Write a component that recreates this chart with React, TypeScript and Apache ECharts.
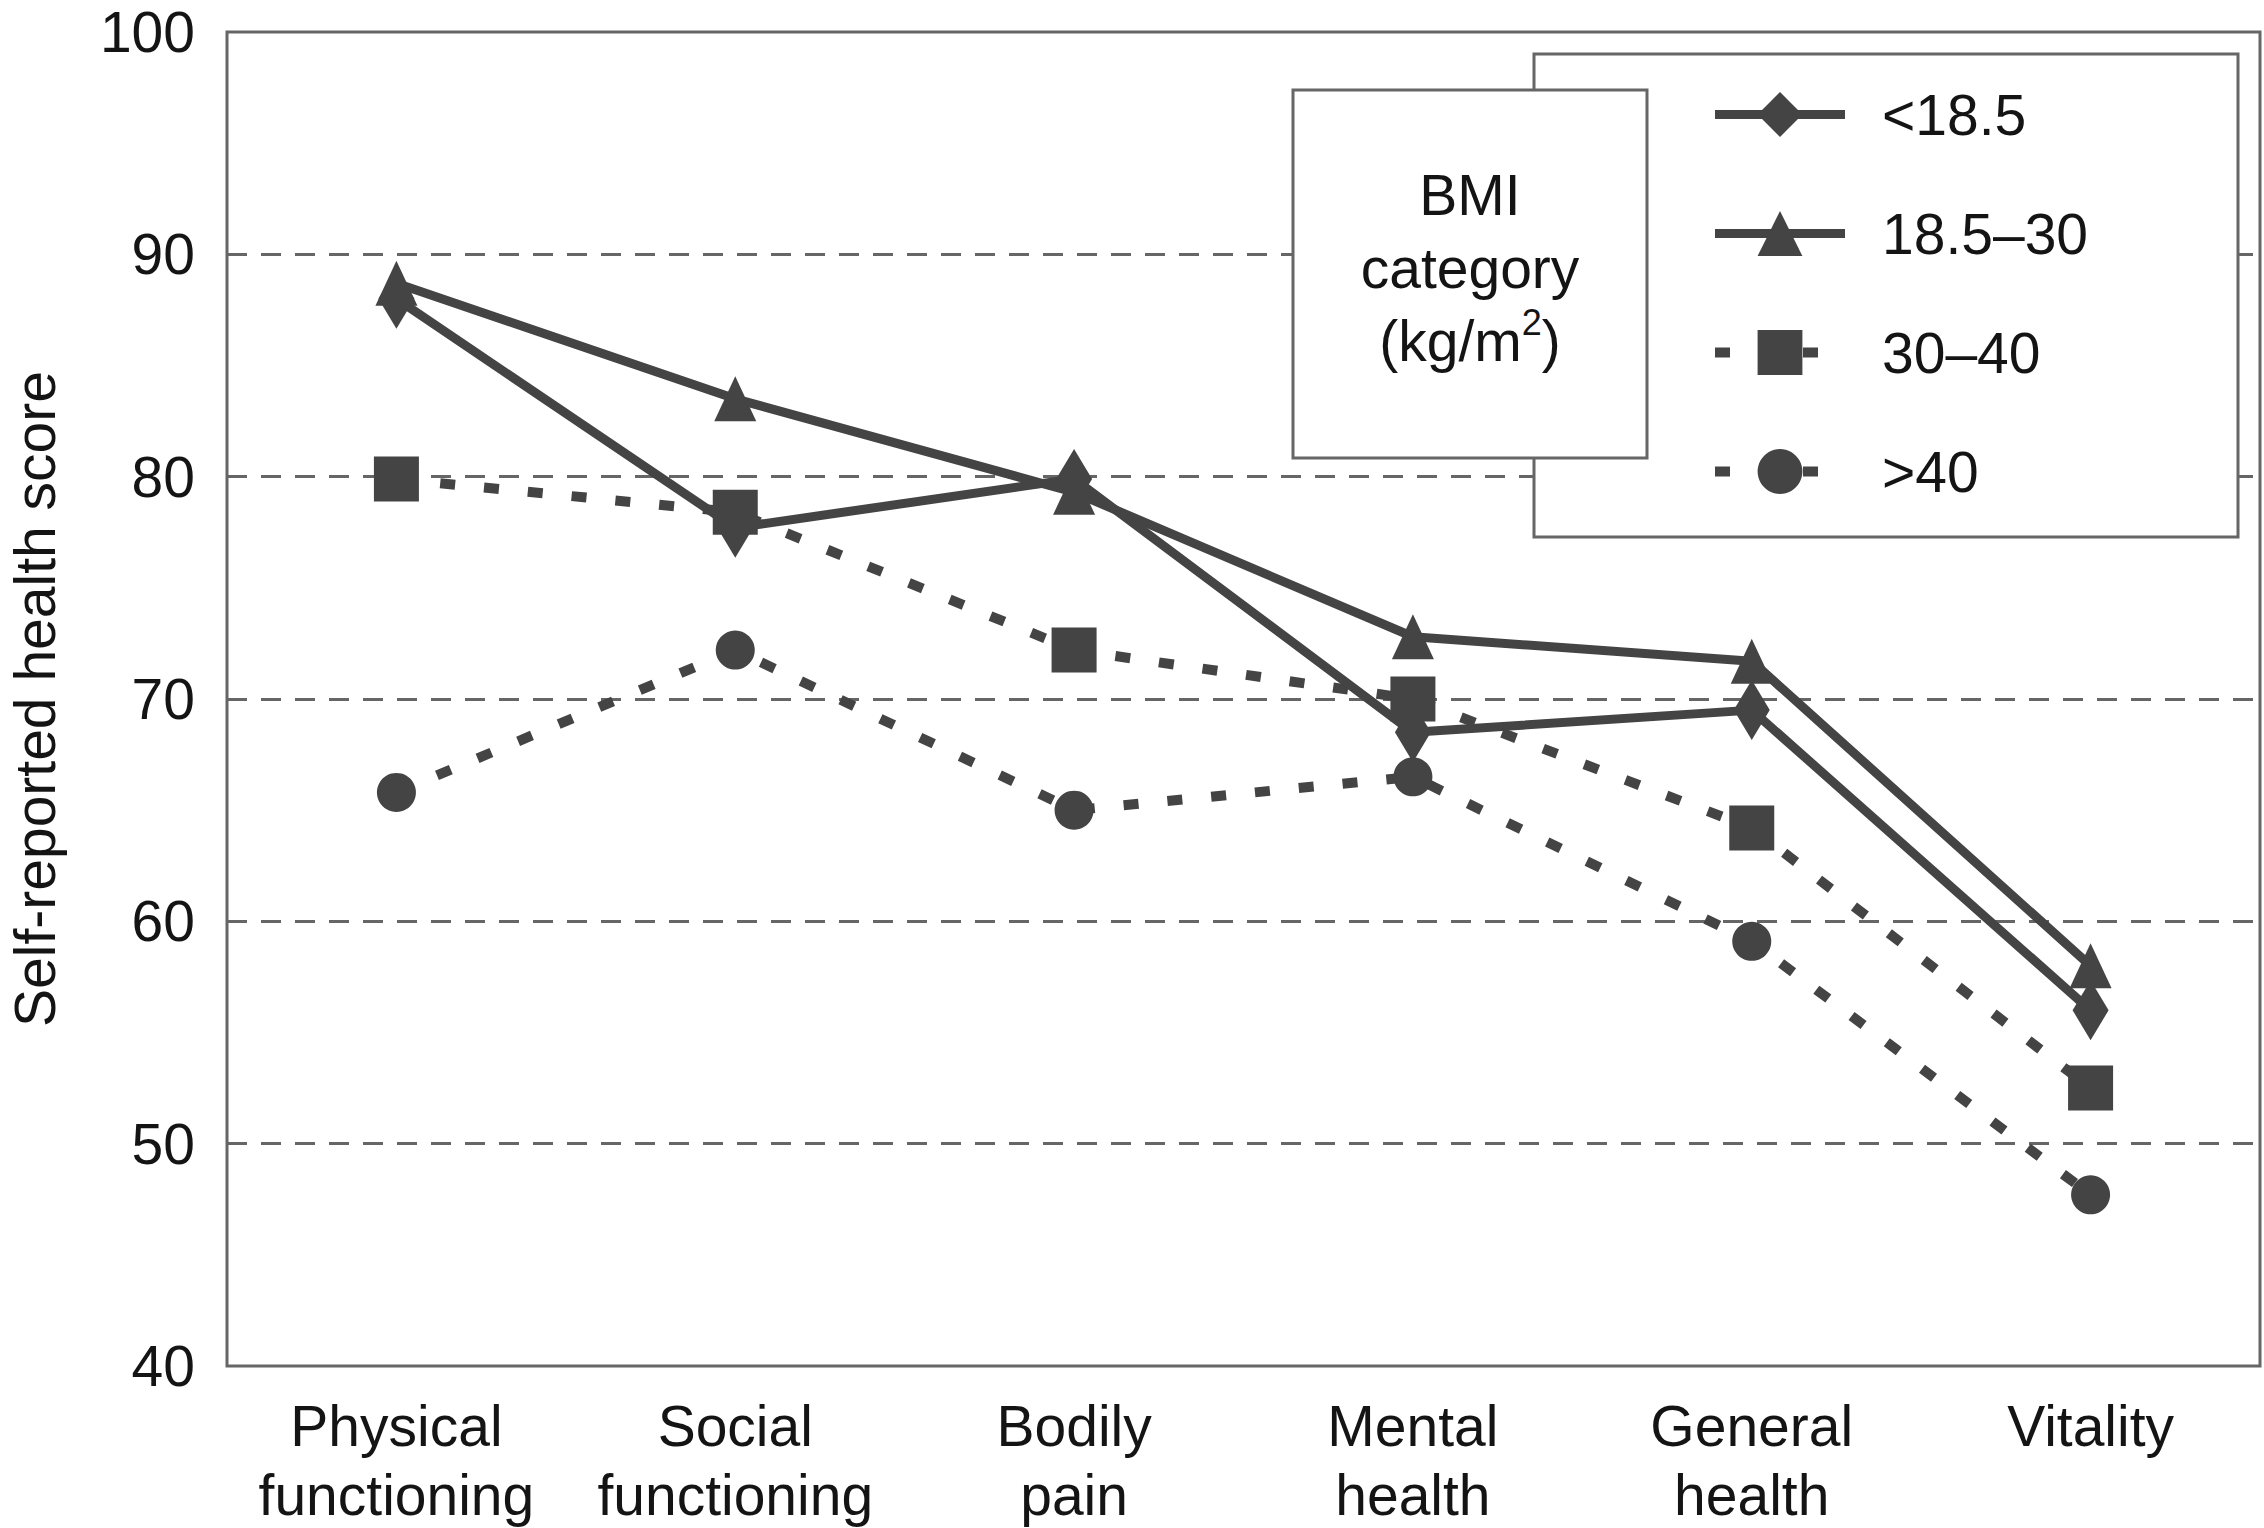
import { useEffect, useRef } from "react";
import * as echarts from "echarts";

// SF-36 domains on the x axis
const CATEGORIES = [
  "Physical\nfunctioning",
  "Social\nfunctioning",
  "Bodily\npain",
  "Mental\nhealth",
  "General\nhealth",
  "Vitality",
];

// self-reported scores per BMI category
const BMI_UNDER_18_5 = [88.0, 77.7, 79.9, 68.5, 69.5, 56.0];
const BMI_18_5_TO_30 = [88.7, 83.5, 79.3, 72.8, 71.7, 58.0];
const BMI_30_TO_40 = [79.9, 78.4, 72.2, 70.0, 64.2, 52.5];
const BMI_OVER_40 = [65.8, 72.2, 65.0, 66.5, 59.1, 47.7];

const SERIES_NAMES = ["<18.5", "18.5–30", "30–40", ">40"];
const Y_MIN = 40;
const Y_MAX = 100;
const Y_STEP = 10;

const FONT = "'Liberation Sans', Arial, Helvetica, sans-serif";
const INK = "#141414";
const MARK = "#444444";
const FRAME = "#666666";
const DOTTED = [15, 29];

export default function App() {
  const ref = useRef<HTMLDivElement>(null);

  useEffect(() => {
    if (!ref.current) return;
    const chart = echarts.init(ref.current, undefined, { renderer: "svg" });

    const solid = { width: 9, color: MARK, type: "solid" as const };
    const dotted = { width: 10, color: MARK, type: DOTTED, cap: "butt" as const };

    const option = {
      animation: false,
      backgroundColor: "#ffffff",
      textStyle: { fontFamily: FONT },
      grid: {
        show: true,
        left: 227,
        top: 32,
        right: 4,
        bottom: 162,
        outerBoundsMode: "none",
        containLabel: false,
        borderColor: FRAME,
        borderWidth: 3,
        backgroundColor: "transparent",
      },
      legend: {
        data: [
          { name: SERIES_NAMES[0], lineStyle: solid },
          { name: SERIES_NAMES[1], lineStyle: solid },
          { name: SERIES_NAMES[2], lineStyle: dotted },
          { name: SERIES_NAMES[3], lineStyle: dotted },
        ],
        orient: "vertical",
        left: 1710,
        top: 86,
        padding: 0,
        itemWidth: 130,
        itemHeight: 56,
        itemGap: 62,
        selectedMode: false,
        z: 20,
        textStyle: {
          fontFamily: FONT,
          fontSize: 57,
          lineHeight: 56,
          color: INK,
          padding: [0, 0, 0, 32],
        },
      },
      xAxis: {
        type: "category",
        data: CATEGORIES,
        boundaryGap: true,
        axisLine: { show: false },
        axisTick: { show: false },
        splitLine: { show: false },
        axisLabel: {
          interval: 0,
          margin: 25,
          fontFamily: FONT,
          fontSize: 57,
          lineHeight: 69,
          color: INK,
        },
      },
      yAxis: {
        type: "value",
        min: Y_MIN,
        max: Y_MAX,
        interval: Y_STEP,
        name: "Self-reported health score",
        nameLocation: "middle",
        nameRotate: 90,
        nameGap: 168,
        nameTextStyle: { fontFamily: FONT, fontSize: 57, lineHeight: 48, color: INK },
        axisLine: { show: false },
        axisTick: { show: false },
        axisLabel: { margin: 32, fontFamily: FONT, fontSize: 57, lineHeight: 44, color: INK },
        splitLine: {
          show: true,
          showMinLine: false,
          showMaxLine: false,
          lineStyle: { color: FRAME, width: 3, type: [20, 14] },
        },
      },
      graphic: {
        elements: [
          {
            type: "rect",
            z: 10,
            silent: true,
            shape: { x: 1534, y: 54, width: 704, height: 483 },
            style: { fill: "#ffffff", stroke: FRAME, lineWidth: 3 },
          },
          {
            type: "rect",
            z: 11,
            silent: true,
            shape: { x: 1293, y: 90, width: 354, height: 368 },
            style: { fill: "#ffffff", stroke: FRAME, lineWidth: 3 },
          },
          {
            type: "text",
            z: 12,
            silent: true,
            x: 1470,
            y: 268,
            style: {
              text: "BMI\ncategory\n(kg/m{sup|2})",
              fontFamily: FONT,
              fontSize: 57,
              lineHeight: 73,
              fill: INK,
              align: "center",
              verticalAlign: "middle",
              rich: {
                sup: {
                  fontFamily: FONT,
                  fontSize: 36,
                  fill: INK,
                  verticalAlign: "top",
                },
              },
            },
          },
        ],
      },
      series: [
        {
          name: SERIES_NAMES[2],
          type: "line",
          data: BMI_30_TO_40,
          symbol: "rect",
          symbolSize: 45,
          lineStyle: dotted,
          itemStyle: { color: MARK },
          z: 2,
        },
        {
          name: SERIES_NAMES[3],
          type: "line",
          data: BMI_OVER_40,
          symbol: "circle",
          symbolSize: 39,
          lineStyle: dotted,
          itemStyle: { color: MARK },
          z: 2,
        },
        {
          name: SERIES_NAMES[1],
          type: "line",
          data: BMI_18_5_TO_30,
          symbol: "triangle",
          symbolSize: [42, 45],
          lineStyle: solid,
          itemStyle: { color: MARK },
          z: 3,
        },
        {
          name: SERIES_NAMES[0],
          type: "line",
          data: BMI_UNDER_18_5,
          symbol: "diamond",
          symbolSize: [36, 60],
          lineStyle: solid,
          itemStyle: { color: MARK },
          z: 4,
        },
      ],
    };

    chart.setOption(option);
    return () => chart.dispose();
  }, []);

  return (
    <div
      ref={ref}
      style={{
        position: "fixed",
        left: 0,
        top: 0,
        width: 2264,
        height: 1528,
        background: "#ffffff",
      }}
    />
  );
}
